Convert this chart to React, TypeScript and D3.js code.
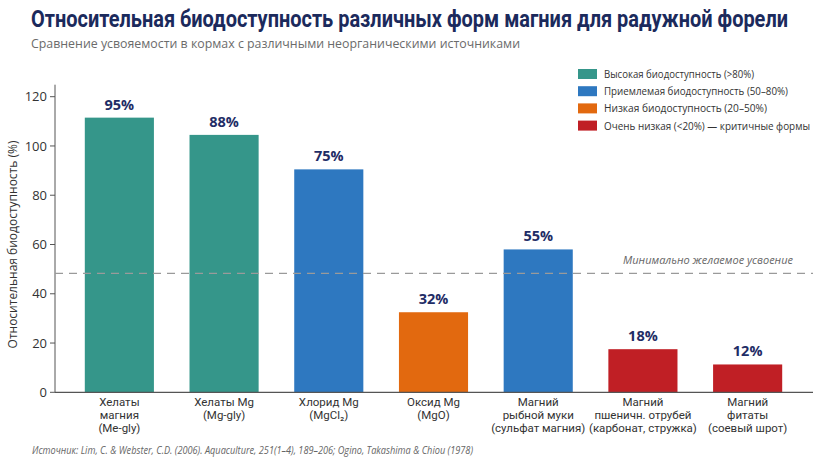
import React, { useEffect, useRef, useState } from 'react'
import * as d3 from 'd3'

// categories (multi-line x labels)
const categories: string[][] = [
	['Хелаты', 'магния', '(Me-gly)'],
	['Хелаты Mg', '(Mg-gly)'],
	['Хлорид Mg', '(MgCl₂)'],
	['Оксид Mg', '(MgO)'],
	['Магний', 'рыбной муки', '(сульфат магния)'],
	['Магний', 'пшеничн. отрубей', '(карбонат, стружка)'],
	['Магний', 'фитаты', '(соевый шрот)'],
]
// bar heights as drawn on the axis
const values = [111.5, 104.5, 90.5, 32.5, 58, 17.5, 11.3]
// labels printed above the bars
const valueLabels = ['95%', '88%', '75%', '32%', '55%', '18%', '12%']
const groups = [0, 0, 1, 2, 1, 3, 3]

const groupNames = [
	'Высокая биодоступность (>80%)',
	'Приемлемая биодоступность (50–80%)',
	'Низкая биодоступность (20–50%)',
	'Очень низкая (<20%) — критичные формы',
]
const groupColors = ['#35968a', '#2e78c0', '#e2690f', '#c01f25']
const legendWidths = [150, 184, 163, 206]

const yTicks = [0, 20, 40, 60, 80, 100, 120]
const threshold = 48.3

const W = 824
const H = 468
const font = '"Open Sans", "Noto Sans", sans-serif'

export default function App() {
	const titleRef = useRef<SVGTextElement>(null)
	const [titleScale, setTitleScale] = useState(0.88)

	useEffect(() => {
		if (titleRef.current) {
			const len = titleRef.current.getComputedTextLength()
			if (len > 0) setTitleScale(757 / len)
		}
	}, [])

	const x = d3.scaleBand<number>()
		.domain(values.map((_, i) => i))
		.range([67, 800])
		.paddingInner(0.34)
		.paddingOuter(0.17)
	const y = d3.scaleLinear().domain([0, 120]).range([392.3, 96.7])
	const axisLeft = 55
	const axisRight = 813
	const cx = (i: number) => (x(i) as number) + x.bandwidth() / 2

	return (
		<svg width={W} height={H} style={{ position: 'absolute', left: 0, top: 0, background: '#fff' }} fontFamily={font}>
			<rect width={W} height={H} fill="#fff" />
			<text ref={titleRef} transform={`translate(31, 27) scale(${titleScale}, 1)`} fontFamily='Roboto, sans-serif'
				fontWeight={700} fontSize={24} fill="#1b2a5c">
				Относительная биодоступность различных форм магния для радужной форели
			</text>
			<text x={31} y={48} fontSize={13} fill="#6b6b6b" textLength={489} lengthAdjust="spacingAndGlyphs">
				Сравнение усвояемости в кормах с различными неорганическими источниками
			</text>

			{/* legend */}
			{groupNames.map((g, i) => (
				<g key={g} transform={`translate(578, ${69 + i * 17.2})`}>
					<rect width={19} height={10} fill={groupColors[i]} />
					<text x={26} y={9} fontSize={10.5} fill="#333" textLength={legendWidths[i]} lengthAdjust="spacingAndGlyphs">{g}</text>
				</g>
			))}

			{/* y axis */}
			<line x1={axisLeft} x2={axisLeft} y1={y(120) - 12} y2={y(0)} stroke="#555" strokeWidth={1} />
			{yTicks.map(t => (
				<g key={t} transform={`translate(0, ${y(t)})`}>
					<line x1={axisLeft - 5} x2={axisLeft} stroke="#555" />
					<text x={axisLeft - 8} dy="0.35em" textAnchor="end" fontSize={13} fill="#333">{t}</text>
				</g>
			))}
			<text transform={`translate(17, ${y(60)}) rotate(-90)`} textAnchor="middle" fontSize={12} fill="#333">
				Относительная биодоступность (%)
			</text>

			{/* bars */}
			{values.map((v, i) => (
				<g key={i}>
					<rect x={x(i)} y={y(v)} width={x.bandwidth()} height={y(0) - y(v)} fill={groupColors[groups[i]]} />
					<text x={cx(i)} y={y(v) - 8} textAnchor="middle"
						fontSize={14.5} fontWeight={700} fill="#1f2d66">{valueLabels[i]}</text>
				</g>
			))}

			{/* threshold */}
			<line x1={axisLeft} x2={axisRight} y1={y(threshold)} y2={y(threshold)} stroke="#9a9a9a" strokeWidth={1.3} strokeDasharray="8 6" />
			<text x={793} y={y(threshold) - 9} textAnchor="end" fontSize={11} fontStyle="italic" fill="#666">
				Минимально желаемое усвоение
			</text>

			{/* x axis */}
			<line x1={axisLeft} x2={axisRight} y1={y(0)} y2={y(0)} stroke="#555" strokeWidth={1.2} />
			{categories.map((lines, i) => lines.map((l, j) => (
				<text key={`${i}-${j}`} x={cx(i)} y={406 + j * 13} textAnchor="middle" fontFamily='Roboto, sans-serif'
					fontSize={11.5} fill="#333">{l}</text>
			)))}

			<text x={32} y={454} fontSize={10} fontStyle="italic" fill="#666" textLength={441} lengthAdjust="spacingAndGlyphs">
				Источник: Lim, C. &amp; Webster, C.D. (2006). Aquaculture, 251(1–4), 189–206; Ogino, Takashima &amp; Chiou (1978)
			</text>
		</svg>
	)
}
